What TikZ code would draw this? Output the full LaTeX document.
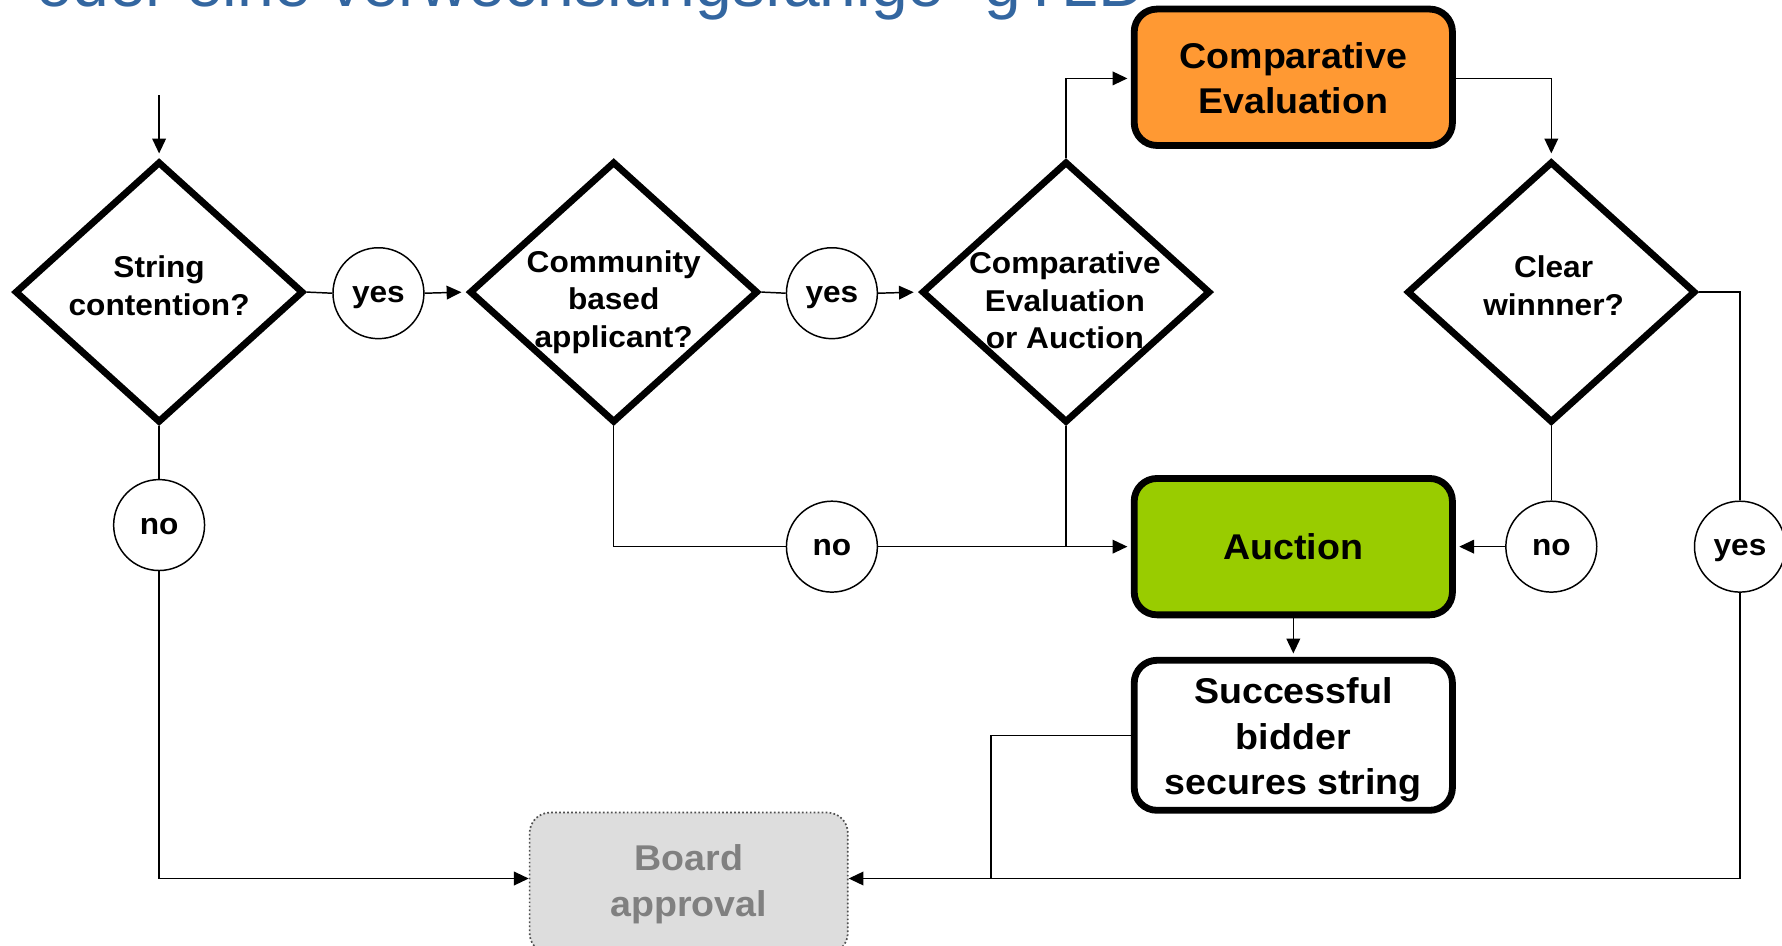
\documentclass[tikz,border=0pt]{standalone}
\usepackage{fontspec}
\setmainfont{Liberation Sans}[FakeStretch=1.05]
\newfontfamily\titlefont{Liberation Sans}
\usetikzlibrary{shapes.geometric,arrows.meta}
\definecolor{titleblue}{RGB}{51,102,160}
\definecolor{ceorange}{RGB}{255,153,51}
\definecolor{aucgreen}{RGB}{153,204,0}
\definecolor{bafill}{RGB}{221,221,221}
\definecolor{batext}{RGB}{128,128,128}
\definecolor{baline}{RGB}{80,80,80}
\tikzset{
  dia/.style={shape=diamond, draw=black, line width=6pt, inner sep=0pt,
    minimum width=254pt, minimum height=230pt, fill=white},
  dtxt/.style={align=center, inner sep=0pt, font=\fontsize{26.5}{33}\selectfont\bfseries},
  box/.style={draw=black, line width=6pt, rounded corners=20pt, inner sep=0pt,
    minimum width=280pt, align=center, font=\fontsize{31.5}{40}\selectfont\bfseries},
  btxt/.style={align=center, inner sep=0pt, font=\fontsize{31.5}{40}\selectfont\bfseries},
  bubble/.style={circle, draw=black, line width=1.3pt, minimum size=80pt, inner sep=0pt,
    fill=white, text height=16pt, text depth=0pt, font=\fontsize{26.5}{30}\selectfont\bfseries},
  conn/.style={draw=black, line width=1.3pt},
  arr/.style={conn, -{Triangle[length=13pt,width=12pt]}},
}
\begin{document}
\begin{tikzpicture}[x=1pt,y=-1pt]
\useasboundingbox (0,0) rectangle (1568,832);
\clip (0,0) rectangle (1568,832);
% title (cut off by the picture's top edge)
\node[anchor=base west, inner sep=0pt, text=titleblue, font=\titlefont\fontsize{58}{60}\selectfont] (title) at (31.5,6) {oder eine verwechslungsfähige “gTLD”};
% diamonds
\node[dia] (d1) at (140,257) {};
\node[dia] (d2) at (540,257) {};
\node[dia] (d3) at (938,257) {};
\node[dia] (d4) at (1365,257) {};
\node[dtxt] (d1t) at (140,251.5) {String\\contention?};
\node[dtxt] (d2t) at (540,265.5) {Community\\based\\applicant?};
\node[dtxt] (d3t) at (937,264.5) {Comparative\\Evaluation\\or Auction};
\node[dtxt] (d4t) at (1367,251.5) {Clear\\winnner?};
% boxes
\node[box, fill=ceorange, minimum height=120pt] (ce) at (1138,68) {};
\node[btxt] (cet) at (1138,69) {Comparative\\Evaluation};
\node[box, fill=aucgreen, minimum height=120pt] (auc) at (1138,481) {Auction};
\node[box, fill=white, minimum height=132pt] (sb) at (1138,647) {};
\node[btxt] (sbt) at (1138,651) {Successful\\bidder\\secures string};
\node[draw=baline, dotted, line width=1.5pt, fill=bafill, rounded corners=18pt,
  minimum width=280pt, minimum height=124pt, inner sep=0pt] (ba) at (606,777) {};
\node[btxt, text=batext] (bat) at (606,778) {Board\\approval};
% bubbles
\node[bubble] (y1) at (333,258) {yes};
\node[bubble] (y2) at (732,258) {yes};
\node[bubble] (n1) at (140,462) {no};
\node[bubble] (n2) at (732,481) {no};
\node[bubble] (n3) at (1365,481) {no};
\node[bubble] (y3) at (1531,481) {yes};
% helper coordinates
\coordinate (start) at (140,84);
\coordinate (jn) at (872,773);
% connectors
\draw[arr, shorten >=4pt] (start) -- (d1.north);
\draw[conn] (d1.east) -- (y1.west);
\draw[arr, shorten >=4pt] (y1.east) -- (d2.west);
\draw[conn] (d1.south) -- (n1.north);
\draw[arr] (n1.south) |- ([yshift=4pt]ba.west);
\draw[conn] (d2.east) -- (y2.west);
\draw[arr, shorten >=4pt] (y2.east) -- (d3.west);
\draw[conn] (d2.south) |- (n2.west);
\draw[arr, shorten >=3pt] (n2.east) -- (auc.west);
\draw[conn] (d3.south) -- (d3.south |- auc.west);
\draw[arr, shorten >=3pt] (d3.north) |- ([yshift=-1pt]ce.west);
\draw[arr, shorten >=4pt] ([yshift=-1pt]ce.east) -| (d4.north);
\draw[conn] (d4.south) -- (n3.north);
\draw[arr, shorten >=3pt] (n3.west) -- (auc.east);
\draw[conn] (d4.east) -| (y3.north);
\draw[arr] (y3.south) |- ([yshift=4pt]ba.east);
\draw[arr, shorten >=3pt] (auc.south) -- (sb.north);
\draw[conn] (sb.west) -| (jn);
\end{tikzpicture}
\end{document}
